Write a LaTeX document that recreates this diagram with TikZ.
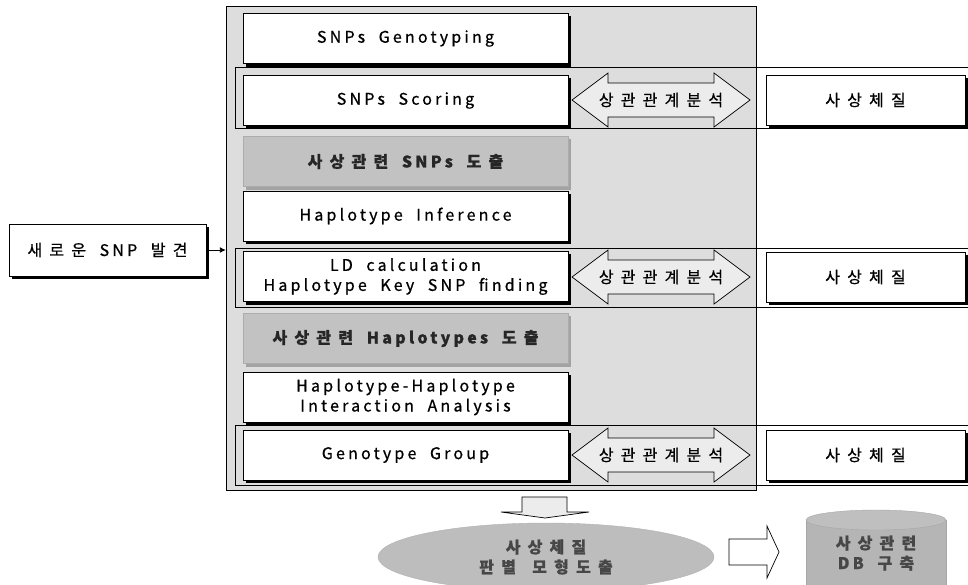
\documentclass[tikz,border=0pt]{standalone}
\usepackage{fontspec}
\setmainfont[LetterSpace=20, WordSpace=2, FakeBold=0.7]{Noto Sans CJK KR}
\newfontfamily\krfont[LetterSpace=45, WordSpace=1.5, FakeBold=0.7]{Noto Sans CJK KR}
\newcommand{\kr}[1]{{\krfont #1}}
\usetikzlibrary{positioning,calc,shapes.geometric,arrows.meta}
\pgfdeclarelayer{back}
\pgfdeclarelayer{shade}
\pgfsetlayers{back,shade,main}

\tikzset{
	stepbox/.style={draw, line width=0.8pt, fill=white,
		minimum width=325pt, minimum height=50pt, align=center},
	resultbox/.style={draw=gray!65, line width=0.8pt, fill=gray!48, text=black!85,
		minimum width=325pt, minimum height=50pt, font=\fontsize{16}{20}\selectfont\bfseries},
	sidebox/.style={stepbox, minimum width=199pt},
	blockarrow/.style={draw, line width=0.7pt, fill=gray!15},
}

\begin{document}
\begin{tikzpicture}[x=1pt, y=-1pt, font=\fontsize{16}{20}\selectfont]
\useasboundingbox (0,0) rectangle (968,584);

% analysis steps
\node[stepbox] (geno) at (405.5,38.5) {SNPs Genotyping};
\node[stepbox] (score) at (405.5,100.5) {SNPs Scoring};
\node[resultbox] (snpres) at (405.5,161.5) {\kr{사상관련} SNPs \kr{도출}};
\node[stepbox] (infer) at (405.5,216) {Haplotype Inference};
\node[stepbox] (ld) at (405.5,276.5) {LD calculation\\Haplotype Key SNP finding};
\node[resultbox] (hapres) at (405.5,338.5) {\kr{사상관련} Haplotypes \kr{도출}};
\node[stepbox] (inter) at (405.5,397) {Haplotype-Haplotype\\Interaction Analysis};
\node[stepbox] (group) at (405.5,455) {Genotype Group};

% gray panel and the three correlation bands
\begin{pgfonlayer}{back}
\node[draw, fill=gray!27, minimum width=530pt, minimum height=484pt, inner sep=0pt]
	(panel) at (491,248) {};
\foreach \t/\b in {67/128, 248/307, 425/485}
\draw[line width=0.9pt] (968,\t) -- (235,\t) -- (235,\b) -- (968,\b);
\end{pgfonlayer}

% new SNP input
\node[stepbox, minimum width=197pt, minimum height=52pt] (newsnp) at (107.5,250)
	{\kr{새로운} SNP \kr{발견}};
\draw[-{Latex[length=6pt,width=6pt]}, line width=0.9pt] (newsnp.east) -- (newsnp.east -| panel.west);

% correlation arrows and constitution boxes
\foreach \y/\n in {100/a, 277/b, 455/c}{
\draw[blockarrow] (572,\y) -- ++(36,-27) -- ++(0,10) -- ++(106,0) -- ++(0,-10)
	-- ++(36,27) -- ++(-36,27) -- ++(0,-10) -- ++(-106,0) -- ++(0,10) -- cycle;
\node (corr\n) at (661,\y) {\kr{상관관계분석}};
\node[sidebox] (const\n) at (865.5,\y) {\kr{사상체질}};
}

% shadows under the boxes
\begin{pgfonlayer}{shade}
\foreach \b in {geno,score,infer,ld,inter,group,newsnp,consta,constb,constc}
\fill ($(\b.south west)+(3,3)$) rectangle ($(\b.north east)+(3,3)$);
\foreach \b in {snpres,hapres}
\fill[gray!72] ($(\b.south west)+(3,3)$) rectangle ($(\b.north east)+(3,3)$);
\end{pgfonlayer}

% outputs
\draw[blockarrow] (522,497) -- (567,497) -- (567,512) -- (589,512) -- (545,518)
	-- (501,512) -- (522,512) -- cycle;
\node[ellipse, draw=gray!60, fill=gray!52, text=black!72, minimum width=336pt,
	minimum height=68pt, align=center, font=\fontsize{16}{20}\selectfont\bfseries]
	(model) at (546,557) {\kr{사상체질}\\\kr{판별 모형도출}};
\draw[line width=0.7pt, fill=white] (729,539) -- (767,539) -- (767,526) -- (779,552)
	-- (767,578) -- (767,565) -- (729,565) -- cycle;
\draw[draw=gray!70, fill=gray!58] (806,520) -- (806,600) -- (946,600) -- (946,520);
\draw[draw=gray!70, fill=gray!50] (876,520) ellipse[x radius=70, y radius=10];
\node[align=center, text=black!72, font=\fontsize{16}{20}\selectfont\bfseries]
	(db) at (876,553) {\kr{사상관련}\\DB \kr{구축}};
\end{tikzpicture}
\end{document}
